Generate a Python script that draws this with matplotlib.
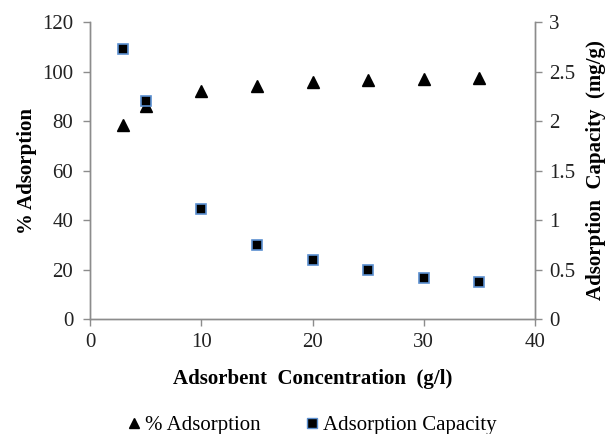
import matplotlib
matplotlib.use("Agg")
import matplotlib.pyplot as plt
from matplotlib.lines import Line2D

plt.rcParams["font.family"] = ["Liberation Serif", "DejaVu Serif"]

# adsorbent dose (g/l)
dose = [3, 5, 10, 15, 20, 25, 30, 35]
# removal efficiency (%)
pct_adsorption = [78.5, 86, 92, 94, 96, 96.5, 97, 97.5]
# uptake (mg/g)
capacity = [2.73, 2.2, 1.11, 0.75, 0.6, 0.5, 0.41, 0.37]

x_ticks = [0, 10, 20, 30, 40]
left_ticks = [0, 20, 40, 60, 80, 100, 120]
right_ticks = [0, 0.5, 1, 1.5, 2, 2.5, 3]
right_labels = ["0", "0.5", "1", "1.5", "2", "2.5", "3"]

spine_col = "#8c8c8c"
sq_edge = "#5b8fd0"

fig = plt.figure(figsize=(6.08, 4.34), dpi=100)
ax = fig.add_axes([0.148, 0.265, 0.732, 0.684])
ax2 = ax.twinx()

ax.plot(dose, pct_adsorption, linestyle="none", marker="^", ms=8.5,
        color="black", zorder=3)
ax2.plot(dose, capacity, linestyle="none", marker="s", ms=7.5,
         markerfacecolor="black", markeredgecolor=sq_edge, markeredgewidth=1.2,
         zorder=3)

ax.set_xlim(0, 40)
ax.set_ylim(0, 120)
ax2.set_ylim(0, 3)
ax.set_xticks(x_ticks)
ax.set_yticks(left_ticks)
ax2.set_yticks(right_ticks)
ax2.set_yticklabels(right_labels)

for a in (ax, ax2):
    a.spines["top"].set_visible(False)
    for s in ("left", "right", "bottom"):
        a.spines[s].set_color(spine_col)
        a.spines[s].set_linewidth(1.0)
    a.tick_params(colors=spine_col, labelcolor="#222222", labelsize=15,
                  length=5, width=1.0)
ax.tick_params(axis="y", pad=7)
ax.tick_params(axis="x", pad=5)
ax2.tick_params(axis="y", pad=5)

ax.set_xlabel("Adsorbent  Concentration  (g/l)", fontsize=15,
              fontweight="bold", labelpad=12)
ax.set_ylabel("% Adsorption", fontsize=15, fontweight="bold", labelpad=4)
ax2.set_ylabel("Adsorption  Capacity  (mg/g)", fontsize=15,
               fontweight="bold", labelpad=8)

handles = [
    Line2D([], [], linestyle="none", marker="^", ms=7, color="black"),
    Line2D([], [], linestyle="none", marker="s", ms=7,
           markerfacecolor="black", markeredgecolor=sq_edge),
]
fig.legend(handles, ["% Adsorption", "Adsorption Capacity"],
           loc="center", bbox_to_anchor=(0.51, 0.02), ncol=2, frameon=False,
           fontsize=15, handletextpad=0.0, columnspacing=2.0,
           handlelength=1.0)

fig.savefig("out.png", dpi=100)
